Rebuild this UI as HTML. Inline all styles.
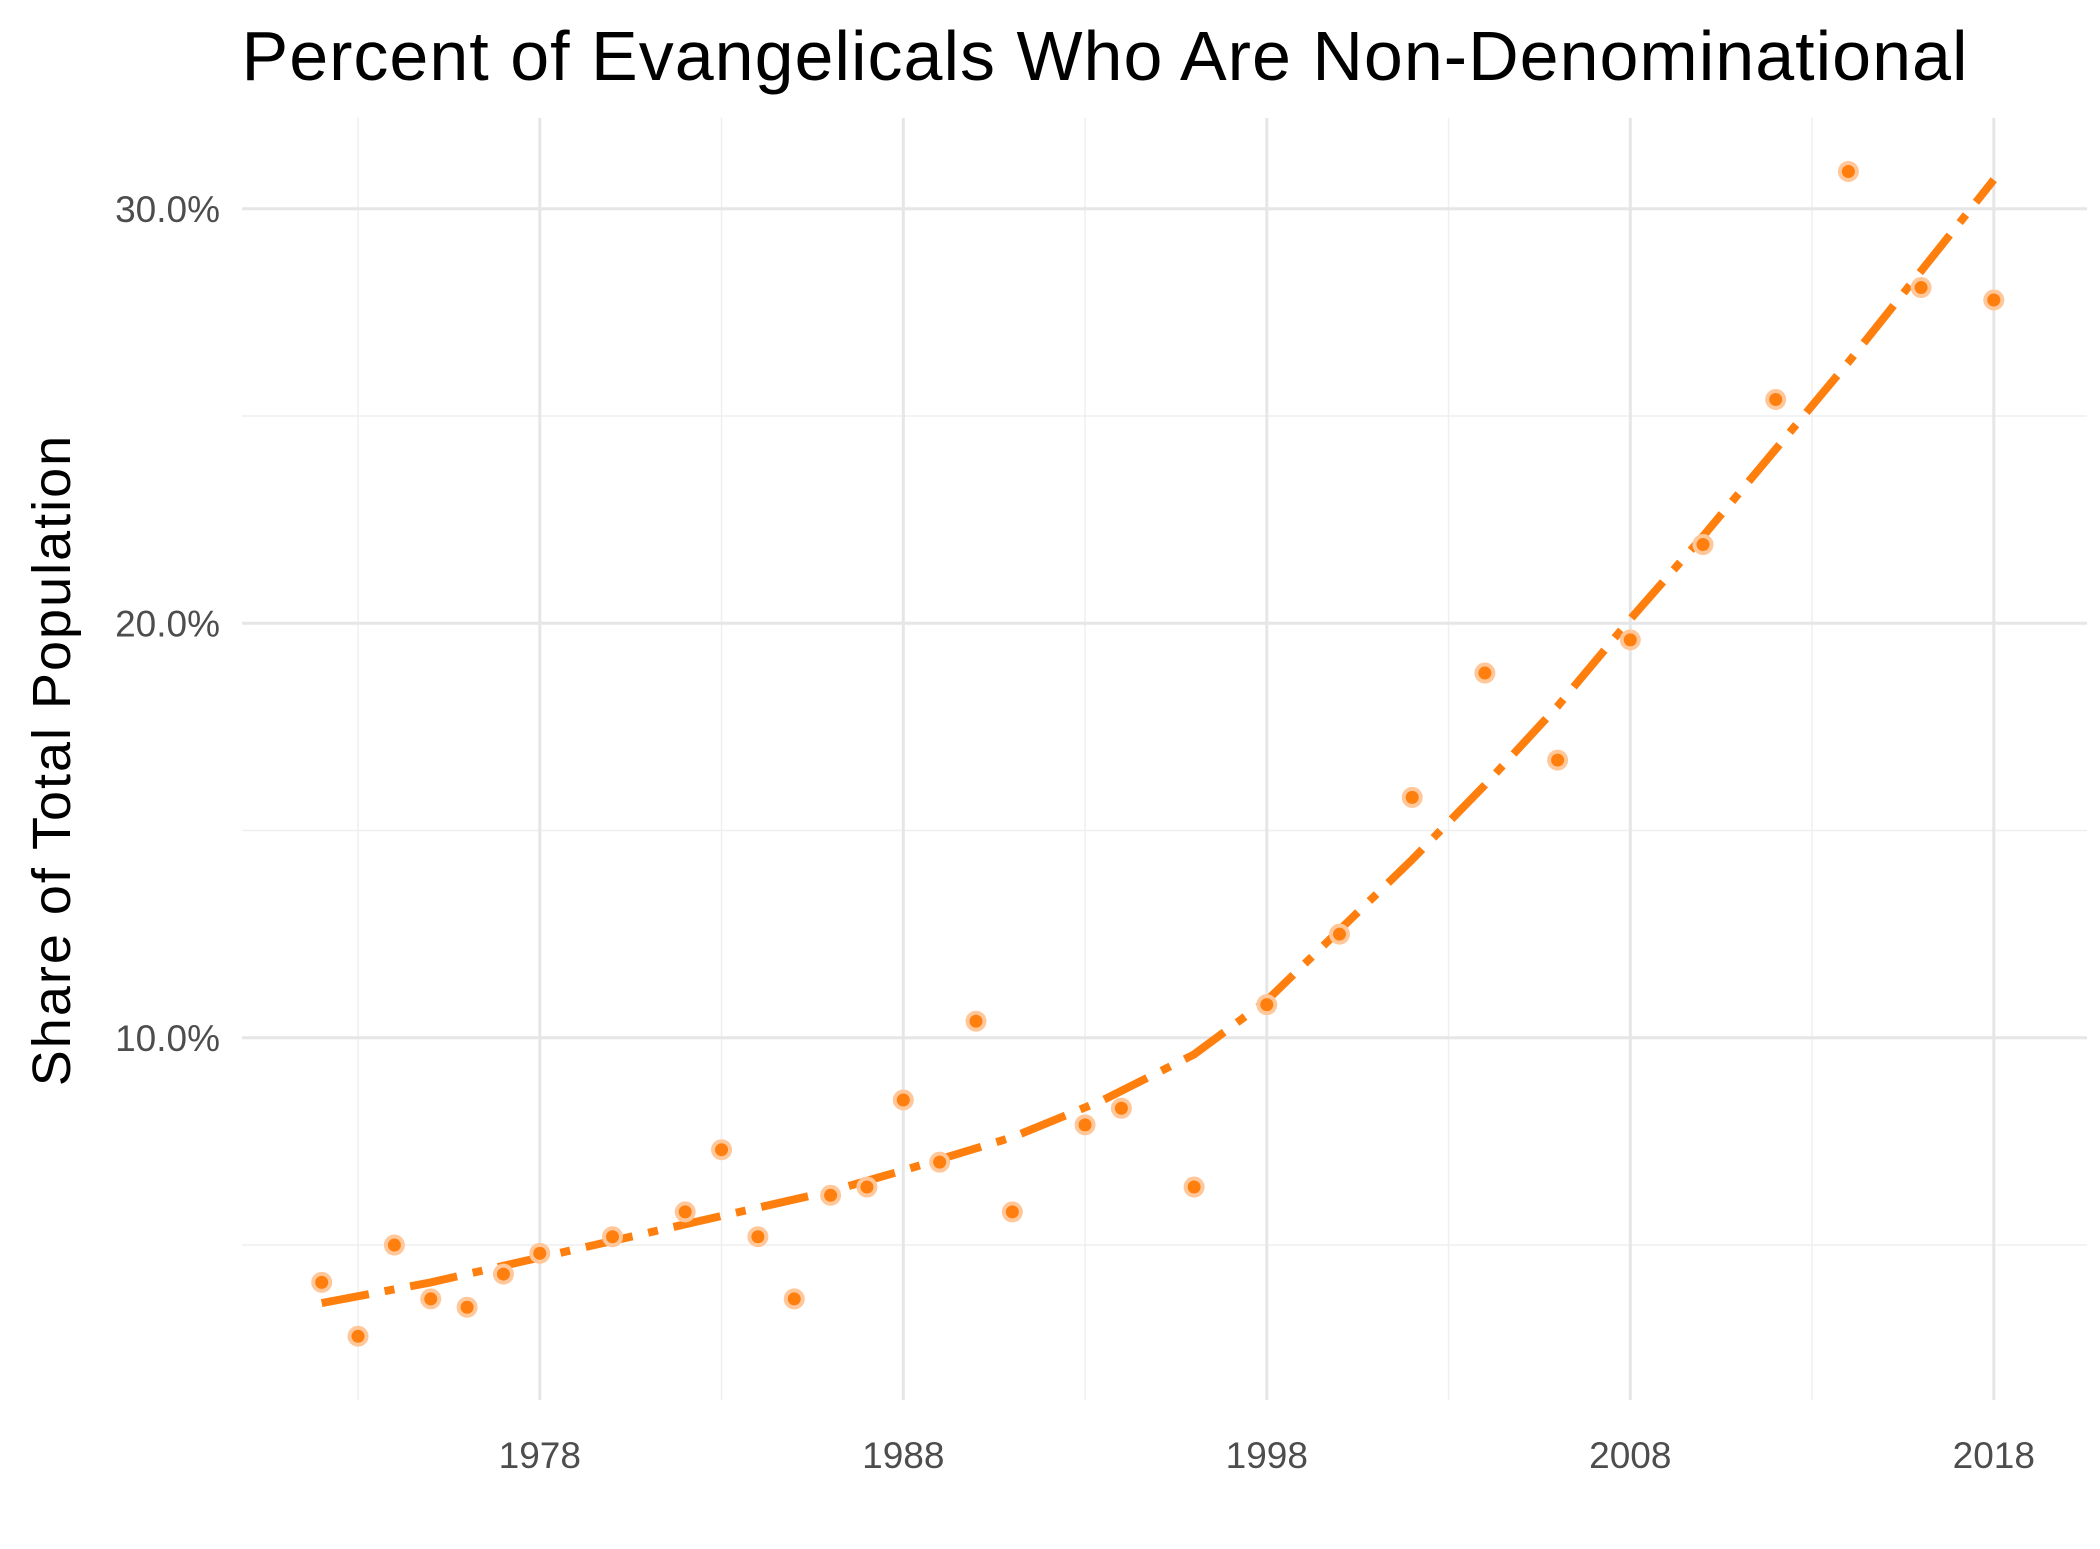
<!DOCTYPE html>
<html><head><meta charset="utf-8"><style>
html,body{margin:0;padding:0;background:#fff}
svg{display:block;font-family:"Liberation Sans",sans-serif}
</style></head><body>
<svg id="chart" width="2100" height="1549" viewBox="0 0 2100 1549">
<text x="1105" y="80" text-anchor="middle" font-size="70" letter-spacing="1" fill="#000">Percent of Evangelicals Who Are Non-Denominational</text>
<text transform="translate(70,760) rotate(-90)" text-anchor="middle" font-size="54" letter-spacing="2" fill="#000">Share of Total Population</text>
<g id="grid"></g><g id="ticks"></g><g id="trend"></g><g id="pts"></g>
</svg>
<script>
const years=[1972,1973,1974,1975,1976,1977,1978,1980,1982,1983,1984,1985,1986,1987,1988,1989,1990,1991,1993,1994,1996,1998,2000,2002,2004,2006,2008,2010,2012,2014,2016,2018];
const values=[4.1,2.8,5.0,3.7,3.5,4.3,4.8,5.2,5.8,7.3,5.2,3.7,6.2,6.4,8.5,7.0,10.4,5.8,7.9,8.3,6.4,10.8,12.5,15.8,18.8,16.7,19.6,21.9,25.4,30.9,28.1,27.8];
const trendYears=[1972,1975,1978,1981,1984,1986,1988,1991,1993.5,1996,1998,2000,2002,2004,2006,2008,2010,2012,2014,2016,2018];
const trendValues=[3.6,4.1,4.7,5.3,5.9,6.3,6.8,7.6,8.5,9.6,10.9,12.6,14.3,16.1,18.0,20.1,22.1,24.2,26.3,28.5,30.7];
const xTicks=[1978,1988,1998,2008,2018];
const xMinor=[1973,1983,1993,2003,2013];
const yTicks=[10,20,30];
const yMinor=[5,15,25];
const NS='http://www.w3.org/2000/svg';
const X=y=>539.8+(y-1978)*36.35;
const Y=v=>1452.3-v*41.45;
const L=242,R=2087,T=118,B=1400;
function mk(tag,attrs,parent){const e=document.createElementNS(NS,tag);for(const k in attrs)e.setAttribute(k,attrs[k]);document.getElementById(parent).appendChild(e);return e;}
xMinor.forEach(t=>{const e=mk('line',{x1:X(t),x2:X(t),y1:T,y2:B,stroke:'#efefef','stroke-width':1.5},'grid');

});
yMinor.forEach(t=>{const e=mk('line',{x1:L,x2:R,y1:Y(t),y2:Y(t),stroke:'#efefef','stroke-width':1.5},'grid');

});
xTicks.forEach(t=>{const e=mk('line',{x1:X(t),x2:X(t),y1:T,y2:B,stroke:'#e6e6e6','stroke-width':3},'grid');


const s=mk('text',{x:X(t),y:1468,'text-anchor':'middle','font-size':37,fill:'#4d4d4d'},'ticks');s.textContent=t;

});
yTicks.forEach(t=>{const e=mk('line',{x1:L,x2:R,y1:Y(t),y2:Y(t),stroke:'#e6e6e6','stroke-width':3},'grid');


const s=mk('text',{x:220,y:Y(t)+13,'text-anchor':'end','font-size':37,fill:'#4d4d4d'},'ticks');s.textContent=t.toFixed(1)+'%';

});
const d=trendYears.map((y,i)=>(i?'L':'M')+X(y).toFixed(1)+','+Y(trendValues[i]).toFixed(1)).join(' ');
const tl=mk('path',{d:d,fill:'none',stroke:'#ff7f0e','stroke-width':8,'stroke-dasharray':'48 16 10 16'},'trend');


years.forEach((y,i)=>{const c=mk('circle',{cx:X(y),cy:Y(values[i]),r:8.5,fill:'#ff7f0e',stroke:'#ffc79a','stroke-width':4},'pts');

});
</script>
</body></html>
